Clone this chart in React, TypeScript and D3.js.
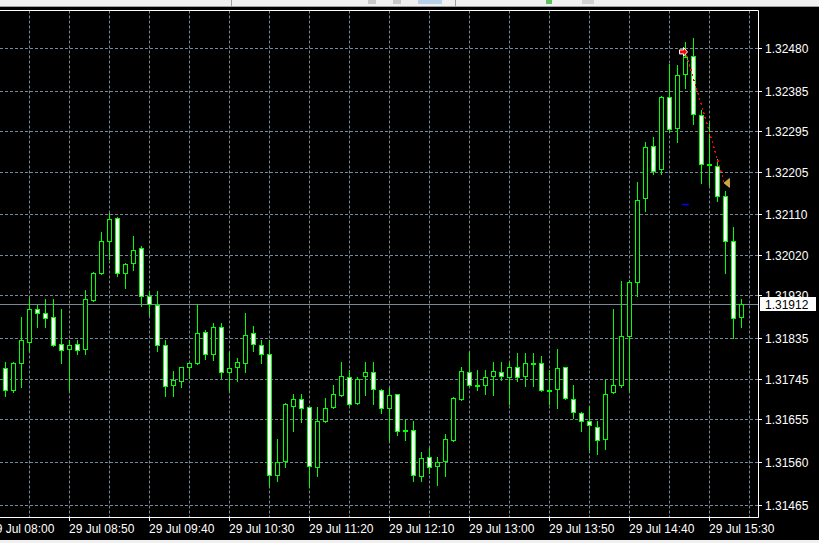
import React from 'react';
import * as d3 from 'd3';

const W = 819;
const H = 543;

// OHLC, M5 bars starting 29 Jul 08:10
const opens = [
  1.31769, 1.3172, 1.31782, 1.31828, 1.319, 1.31891, 1.31883, 1.31823, 1.31812, 1.31823,
  1.31812, 1.3192, 1.3198, 1.32051, 1.32102, 1.3198, 1.32003, 1.32036, 1.3193, 1.3191,
  1.3182, 1.31732, 1.3174, 1.31772, 1.3178, 1.31849, 1.318, 1.3186, 1.3176, 1.31772,
  1.3178, 1.31847, 1.3182, 1.318, 1.31532, 1.31563, 1.31685, 1.317, 1.31683, 1.31549,
  1.31652, 1.31683, 1.31709, 1.31749, 1.31692, 1.31752, 1.3176, 1.3172, 1.3168, 1.31712,
  1.31632, 1.31632, 1.31529, 1.31572, 1.31552, 1.31563, 1.31609, 1.317, 1.3176, 1.31732,
  1.31732, 1.31752, 1.3176, 1.31749, 1.31772, 1.31752, 1.3178, 1.3178, 1.3172, 1.31723,
  1.31772, 1.317, 1.31669, 1.31652, 1.3164, 1.31612, 1.31716, 1.31732, 1.3184, 1.31962,
  1.32147, 1.32263, 1.32211, 1.32371, 1.32302, 1.32422, 1.32462, 1.32331, 1.32222, 1.32218,
  1.32151, 1.32051, 1.31883,
];
const highs = [
  1.31783, 1.31784, 1.31883, 1.31925, 1.3191, 1.31923, 1.31923, 1.31901, 1.31832, 1.31832,
  1.31943, 1.31983, 1.32072, 1.32114, 1.32105, 1.32003, 1.32063, 1.3204, 1.31942, 1.31942,
  1.31832, 1.31763, 1.31773, 1.31782, 1.31911, 1.31854, 1.31871, 1.31871, 1.31805, 1.31792,
  1.31891, 1.31864, 1.31832, 1.31832, 1.31612, 1.31692, 1.31712, 1.31712, 1.31684, 1.31683,
  1.31703, 1.31732, 1.31783, 1.31765, 1.31749, 1.31783, 1.31783, 1.31723, 1.31725, 1.31713,
  1.31656, 1.31652, 1.31583, 1.31592, 1.31572, 1.31623, 1.31705, 1.31772, 1.31805, 1.31765,
  1.31765, 1.31783, 1.31783, 1.31783, 1.31803, 1.31803, 1.31803, 1.31797, 1.31765, 1.31812,
  1.31773, 1.31732, 1.31672, 1.31685, 1.31652, 1.31743, 1.319, 1.31963, 1.31965, 1.32183,
  1.32273, 1.32283, 1.32373, 1.32445, 1.32442, 1.32493, 1.32502, 1.32342, 1.32313, 1.32234,
  1.32163, 1.32082, 1.31923,
];
const lows = [
  1.31708, 1.31717, 1.31728, 1.31808, 1.3186, 1.3186, 1.31819, 1.3178, 1.3172, 1.318,
  1.318, 1.31919, 1.31979, 1.32012, 1.31975, 1.31948, 1.31988, 1.31908, 1.31888, 1.31808,
  1.31708, 1.31708, 1.31728, 1.31747, 1.31779, 1.31791, 1.31788, 1.31748, 1.3172, 1.3174,
  1.3176, 1.31808, 1.3178, 1.31507, 1.3152, 1.31549, 1.31629, 1.31649, 1.31506, 1.31529,
  1.3165, 1.3168, 1.31708, 1.31688, 1.31689, 1.31709, 1.31689, 1.31669, 1.31609, 1.31621,
  1.31609, 1.3152, 1.3152, 1.31536, 1.31509, 1.31529, 1.31607, 1.31699, 1.31731, 1.3172,
  1.31712, 1.31709, 1.31743, 1.31689, 1.3174, 1.31729, 1.31729, 1.31719, 1.31689, 1.3168,
  1.317, 1.3166, 1.31629, 1.31587, 1.3158, 1.31589, 1.31715, 1.31728, 1.3172, 1.31929,
  1.32119, 1.322, 1.322, 1.32293, 1.32271, 1.32391, 1.32311, 1.3218, 1.32176, 1.3214,
  1.3198, 1.31836, 1.3186,
];
const closes = [
  1.3172, 1.3178, 1.31832, 1.319, 1.31891, 1.3188, 1.3182, 1.31809, 1.3182, 1.31809,
  1.31923, 1.3198, 1.32051, 1.321, 1.3198, 1.32, 1.32031, 1.31929, 1.31911, 1.3182,
  1.31729, 1.31743, 1.31772, 1.3178, 1.31847, 1.31802, 1.3186, 1.31762, 1.31769, 1.31783,
  1.31843, 1.31823, 1.318, 1.31532, 1.31561, 1.31689, 1.317, 1.3168, 1.31552, 1.31652,
  1.3168, 1.31712, 1.31752, 1.31689, 1.31745, 1.3176, 1.31723, 1.3168, 1.31709, 1.31629,
  1.31631, 1.31532, 1.31569, 1.31549, 1.31561, 1.31612, 1.31703, 1.31763, 1.31732, 1.31731,
  1.31749, 1.31763, 1.31752, 1.31772, 1.31749, 1.3178, 1.31779, 1.3172, 1.31719, 1.31769,
  1.31703, 1.31672, 1.31652, 1.31643, 1.31609, 1.31712, 1.31732, 1.3184, 1.3196, 1.32142,
  1.32261, 1.32207, 1.32371, 1.323, 1.3242, 1.3246, 1.32333, 1.32222, 1.32221, 1.32151,
  1.32051, 1.3188, 1.31912,
];

const priceTicks = [1.3248, 1.32385, 1.32295, 1.32205, 1.3211, 1.3202, 1.3193, 1.31835, 1.31745, 1.31655, 1.3156, 1.31465];
const timeLabels = ['08:00', '08:50', '09:40', '10:30', '11:20', '12:10', '13:00', '13:50', '14:40', '15:30'];
const dateLabel = '29 Jul';
const firstBarTime = '08:10';
const barMinutes = 5;
const currentPrice = 1.31912;

// trade annotations
const tradeBars = [85, 90];
const tradePrices = [1.32472, 1.32181];
const stopBar = 85;
const stopPrice = 1.32134;

const GREEN = '#00ff00';
const GRID = '#778899';
const FONT = '"Liberation Sans", Arial, sans-serif';

const toMin = (t: string) => {
  const [h, m] = t.split(':').map(Number);
  return h * 60 + m;
};

export default function App() {
  const n = opens.length;
  const x = d3.scaleLinear().domain([0, n - 1]).range([5.5, 5.5 + 8 * (n - 1)]);
  const y = d3.scaleLinear().domain([1.31465, 1.3248]).range([505.3, 48.3]);
  const py = (v: number) => Math.floor(y(v)) + 0.5;

  const plotRight = 758.5;
  const plotTop = 10.5;
  const plotBottom = 517.5;

  const gridBars = d3.range(3, n + 1, 5);
  const t0 = toMin(firstBarTime);

  const candles = opens.map((o, i) => {
    const c = closes[i];
    const cx = x(i);
    const top = Math.round(y(Math.max(o, c)));
    const bot = Math.round(y(Math.min(o, c)));
    const hy = Math.round(y(highs[i]));
    const ly = Math.round(y(lows[i]));
    const bull = c > o;
    const doji = bot - top < 1;
    return (
      <g key={i}>
        <line x1={cx} x2={cx} y1={hy} y2={ly + 1} stroke={GREEN} strokeWidth={1} />
        {doji ? (
          <rect x={cx - 2.5} y={top - 1} width={5} height={2} fill={GREEN} />
        ) : (
          <rect
            x={cx - 2}
            y={top + 0.5}
            width={4}
            height={bot - top}
            fill={bull ? '#000000' : '#ffffff'}
            stroke={GREEN}
            strokeWidth={1}
          />
        )}
      </g>
    );
  });

  const ox = x(tradeBars[0]);
  const oy = y(tradePrices[0]);
  const cxT = x(tradeBars[1]);
  const cyT = y(tradePrices[1]);
  const cp = py(currentPrice);

  return (
    <svg width={W} height={H} style={{ position: 'absolute', left: 0, top: 0, display: 'block' }} xmlns="http://www.w3.org/2000/svg">
      <rect x={0} y={0} width={W} height={H} fill="#000000" />
      {/* toolbar strip */}
      <rect x={0} y={0} width={W} height={6} fill="#f0f0f0" />
      <line x1={0} x2={W} y1={6.5} y2={6.5} stroke="#a0a0a0" />
      <line x1={231.5} x2={231.5} y1={0} y2={6} stroke="#a0a0a0" />
      <line x1={455.5} x2={455.5} y1={0} y2={6} stroke="#a0a0a0" />
      <rect x={368} y={0} width={8} height={4} fill="#c8c8c8" />
      <rect x={393} y={0} width={8} height={4} fill="#c8c8c8" />
      <rect x={418} y={0} width={24} height={4} fill="#b8d0e8" />
      <rect x={546} y={0} width={6} height={4} fill="#60c060" />
      <rect x={582} y={0} width={12} height={4} fill="#d0d0d0" />
      <rect x={0} y={540} width={W} height={3} fill="#f0f0f0" />

      {/* grid */}
      {priceTicks.map((v, i) => (
        <line key={'h' + i} x1={0} x2={plotRight} y1={py(v)} y2={py(v)} stroke={GRID} strokeDasharray="3,2" />
      ))}
      {gridBars.map((b) => (
        <line key={'v' + b} x1={x(b)} x2={x(b)} y1={plotTop} y2={plotBottom} stroke={GRID} strokeDasharray="3,2" />
      ))}

      {/* current price line */}
      <line x1={0} x2={plotRight} y1={cp} y2={cp} stroke={GRID} strokeWidth={1} />

      {candles}

      {/* trade annotations */}
      <line
        x1={ox + 1}
        y1={oy + 3}
        x2={cxT - 1}
        y2={cyT}
        stroke="#ff0000"
        strokeWidth={1.3}
        strokeDasharray="2,3"
        shapeRendering="crispEdges"
      />
      <line x1={x(stopBar) - 3.5} x2={x(stopBar) + 3.5} y1={Math.round(y(stopPrice)) + 0.5} y2={Math.round(y(stopPrice)) + 0.5} stroke="#0000ff" strokeWidth={1.5} />
      <path
        d={`M${ox - 6},${oy - 2} L${ox - 2},${oy - 2} L${ox - 2},${oy - 4.5} L${ox + 2},${oy} L${ox - 2},${oy + 4.5} L${ox - 2},${oy + 2} L${ox - 6},${oy + 2} Z`}
        fill="#ff0000"
        stroke="#ffffff"
        strokeWidth={1}
      />
      <path d={`M${cxT - 1.5},${cyT} L${cxT + 4},${cyT - 4.5} L${cxT + 4},${cyT + 4.5} Z`} fill="#daa520" stroke="#f0d090" strokeWidth={0.6} />

      {/* frame */}
      <line x1={0} x2={plotRight} y1={plotTop} y2={plotTop} stroke="#ffffff" />
      <line x1={plotRight} x2={plotRight} y1={plotTop} y2={plotBottom} stroke="#ffffff" />
      <line x1={0} x2={plotRight} y1={plotBottom} y2={plotBottom} stroke="#ffffff" />

      {/* price axis */}
      {priceTicks.map((v, i) => (
        <g key={'p' + i}>
          <line x1={plotRight} x2={762} y1={py(v)} y2={py(v)} stroke="#ffffff" />
          <text x={765} y={Math.floor(y(v)) + 5} fill="#ffffff" fontFamily={FONT} fontSize={12}>
            {v.toFixed(5)}
          </text>
        </g>
      ))}
      <rect x={760} y={Math.floor(y(currentPrice)) - 7} width={56} height={14} fill="#ffffff" />
      <text x={765} y={Math.floor(y(currentPrice)) + 5} fill="#000000" fontFamily={FONT} fontSize={12}>
        {currentPrice.toFixed(5)}
      </text>

      {/* time axis */}
      {timeLabels.map((t, i) => {
        const idx = (toMin(t) - t0) / barMinutes;
        const tx = x(idx);
        return (
          <g key={'t' + i}>
            <line x1={tx} x2={tx} y1={plotBottom} y2={521} stroke="#ffffff" />
            <text x={tx - 0.5} y={532.5} fill="#ffffff" fontFamily={FONT} fontSize={12}>
              {`${dateLabel} ${t}`}
            </text>
          </g>
        );
      })}
    </svg>
  );
}
